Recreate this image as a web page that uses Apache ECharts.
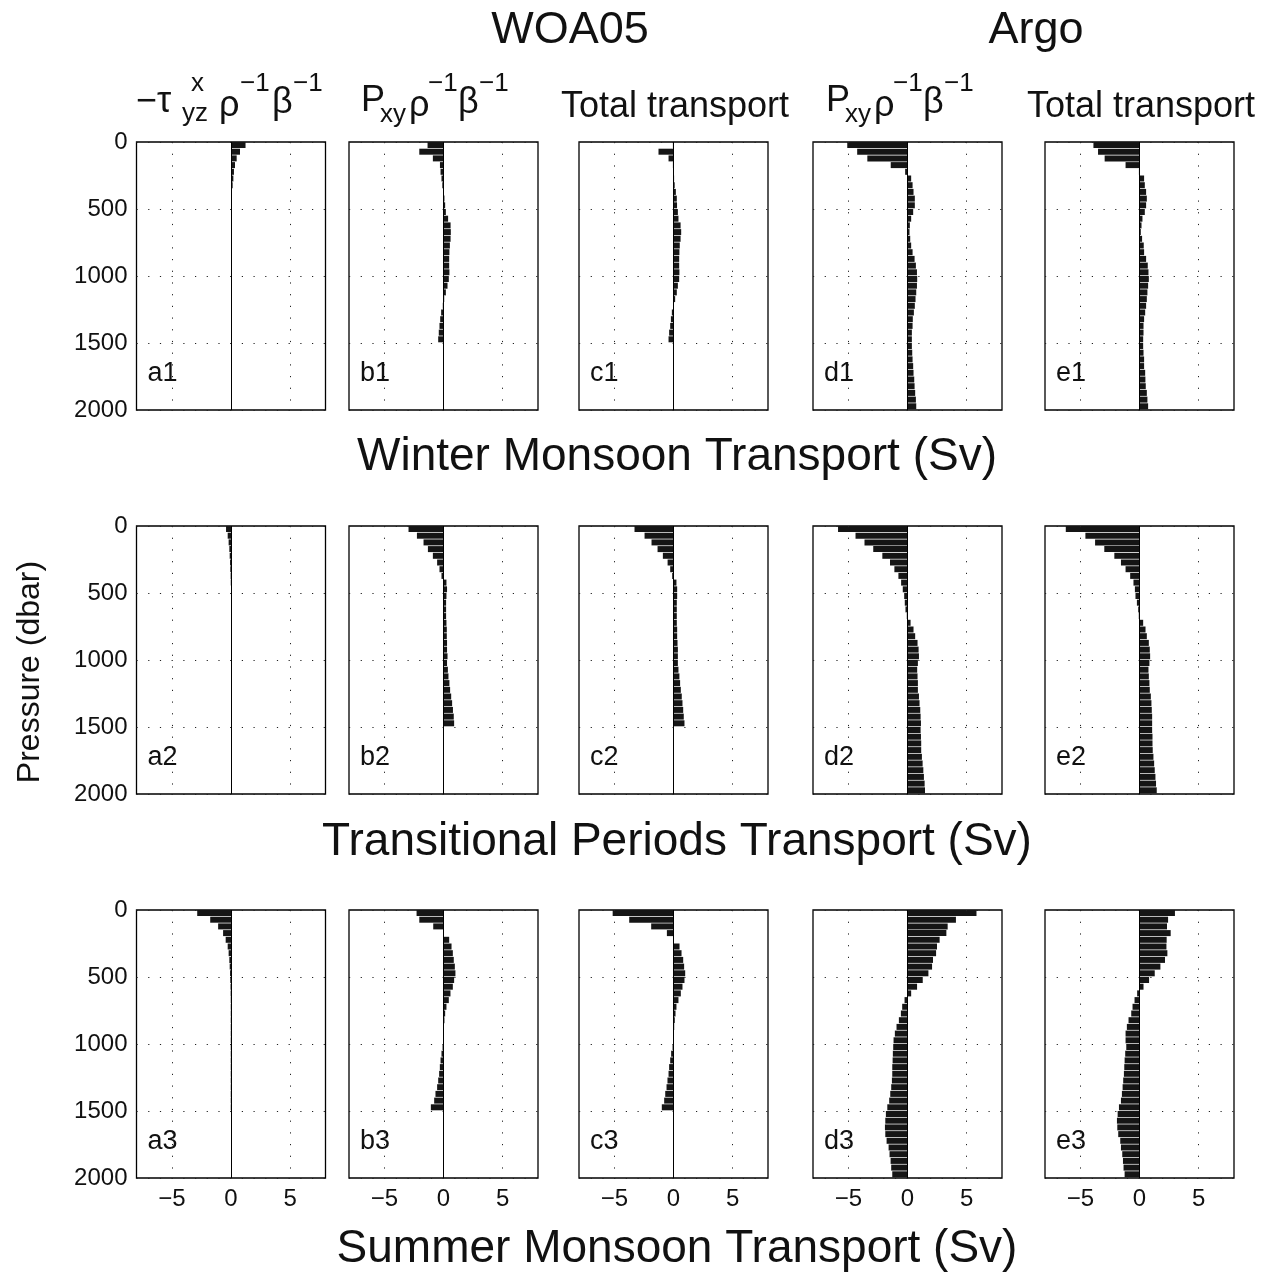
<!DOCTYPE html>
<html lang="en">
<head>
  <meta charset="UTF-8" />
  <title>Monsoon transport profiles</title>
  <script src="https://cdn.jsdelivr.net/npm/echarts@6.0.0/dist/echarts.min.js"></script>
  <style>
    html, body { margin: 0; padding: 0; background: #fff; }
    #chart { width: 1273px; height: 1276px; }
  </style>
</head>
<body>
  <div id="chart"></div>
  <script>
    // bin thickness in dbar; WOA05 goes to 1500, Argo to 2000
    const BIN = 50;

    // Winter monsoon (row 1)
    const winterA = [1.23, 0.76, 0.48, 0.34, 0.25, 0.2, 0.14, 0.08, 0.05, 0.04, 0.03, 0.03, 0.02, 0.02, 0.02, 0.02, 0.02, 0.02, 0.02, 0.02, 0.02, 0.02, 0.02, 0.02, 0.02, 0.02, 0.02, 0.02, 0.02, 0.02];
    const winterB = [-1.35, -2.05, -0.9, -0.3, -0.25, -0.17, -0.1, -0.03, 0.08, 0.14, 0.2, 0.39, 0.6, 0.62, 0.6, 0.54, 0.5, 0.48, 0.48, 0.5, 0.45, 0.34, 0.2, 0.06, -0.06, -0.2, -0.28, -0.34, -0.4, -0.45];
    const winterC = [-0.05, -1.27, -0.42, -0.05, 0.0, 0.05, 0.1, 0.2, 0.28, 0.3, 0.37, 0.42, 0.6, 0.65, 0.6, 0.53, 0.5, 0.48, 0.48, 0.5, 0.48, 0.37, 0.28, 0.14, 0.03, -0.14, -0.22, -0.28, -0.37, -0.42];
    const winterD = [-5.1, -4.26, -3.4, -1.42, -0.2, 0.31, 0.43, 0.51, 0.62, 0.62, 0.48, 0.31, 0.2, 0.17, 0.23, 0.31, 0.43, 0.6, 0.71, 0.8, 0.82, 0.8, 0.74, 0.68, 0.62, 0.54, 0.45, 0.43, 0.37, 0.37, 0.37, 0.4, 0.43, 0.48, 0.51, 0.57, 0.6, 0.65, 0.71, 0.74];
    const winterE = [-3.9, -3.51, -2.95, -1.18, -0.05, 0.39, 0.45, 0.56, 0.62, 0.56, 0.45, 0.25, 0.17, 0.11, 0.22, 0.36, 0.39, 0.56, 0.7, 0.76, 0.79, 0.73, 0.67, 0.62, 0.56, 0.48, 0.39, 0.34, 0.34, 0.31, 0.31, 0.34, 0.39, 0.39, 0.48, 0.5, 0.53, 0.62, 0.67, 0.73];

    // Transitional periods (row 2)
    const transA = [-0.42, -0.28, -0.2, -0.14, -0.11, -0.08, -0.06, -0.03, -0.02, 0.02, 0.03, 0.03, 0.03, 0.03, 0.04, 0.04, 0.04, 0.04, 0.04, 0.04, 0.04, 0.04, 0.04, 0.04, 0.04, 0.04, 0.04, 0.04, 0.04, 0.04];
    const transB = [-2.96, -2.25, -1.69, -1.32, -0.9, -0.54, -0.34, -0.17, 0.25, 0.3, 0.25, 0.22, 0.22, 0.22, 0.25, 0.28, 0.28, 0.3, 0.3, 0.34, 0.3, 0.37, 0.42, 0.5, 0.56, 0.65, 0.73, 0.8, 0.87, 0.9];
    const transC = [-3.3, -2.45, -1.86, -1.35, -0.9, -0.5, -0.28, -0.11, 0.25, 0.31, 0.31, 0.28, 0.28, 0.28, 0.28, 0.31, 0.31, 0.34, 0.37, 0.37, 0.37, 0.42, 0.5, 0.56, 0.62, 0.7, 0.76, 0.82, 0.87, 0.93];
    const transD = [-5.88, -4.4, -3.64, -2.9, -2.13, -1.48, -1.11, -0.77, -0.54, -0.4, -0.28, -0.23, -0.17, -0.06, 0.26, 0.51, 0.65, 0.85, 0.94, 0.97, 0.88, 0.82, 0.85, 0.88, 0.88, 0.97, 1.02, 1.08, 1.11, 1.14, 1.11, 1.14, 1.16, 1.16, 1.22, 1.28, 1.34, 1.39, 1.45, 1.48];
    const transE = [-6.24, -4.58, -3.76, -2.98, -2.13, -1.57, -1.18, -0.79, -0.51, -0.39, -0.34, -0.22, -0.11, -0.06, 0.31, 0.51, 0.62, 0.79, 0.87, 0.9, 0.84, 0.76, 0.79, 0.84, 0.87, 0.96, 1.01, 1.04, 1.07, 1.07, 1.07, 1.1, 1.1, 1.12, 1.18, 1.24, 1.29, 1.35, 1.4, 1.46];

    // Summer monsoon (row 3)
    const summerA = [-2.86, -1.76, -1.09, -0.67, -0.45, -0.28, -0.2, -0.14, -0.11, -0.08, -0.06, -0.04, -0.03, -0.02, -0.02, -0.02, -0.02, -0.02, -0.02, -0.02, -0.02, -0.02, -0.02, -0.02, -0.02, -0.02, -0.02, -0.02, -0.02, -0.02];
    const summerB = [-2.28, -2.05, -0.87, 0.03, 0.48, 0.68, 0.79, 0.87, 0.96, 1.01, 0.9, 0.79, 0.59, 0.45, 0.25, 0.14, 0.08, 0.03, 0.0, -0.03, -0.08, -0.17, -0.25, -0.31, -0.37, -0.45, -0.54, -0.68, -0.79, -1.07];
    const summerC = [-5.15, -3.75, -1.89, -0.56, 0.03, 0.51, 0.68, 0.82, 0.9, 0.99, 0.93, 0.76, 0.62, 0.42, 0.25, 0.17, 0.11, 0.06, 0.03, -0.03, -0.08, -0.2, -0.28, -0.37, -0.42, -0.51, -0.59, -0.7, -0.79, -0.99];
    const summerD = [5.84, 4.1, 3.4, 3.29, 2.72, 2.5, 2.42, 2.16, 2.08, 1.77, 1.29, 0.81, 0.31, -0.25, -0.45, -0.56, -0.73, -0.93, -1.07, -1.18, -1.21, -1.24, -1.26, -1.29, -1.29, -1.32, -1.38, -1.46, -1.55, -1.71, -1.83, -1.88, -1.91, -1.88, -1.77, -1.6, -1.52, -1.43, -1.38, -1.29];
    const summerE = [3.0, 2.42, 2.33, 2.64, 2.3, 2.28, 2.36, 2.16, 1.77, 1.29, 0.81, 0.34, -0.2, -0.42, -0.59, -0.7, -0.93, -1.07, -1.18, -1.18, -1.12, -1.21, -1.26, -1.29, -1.32, -1.38, -1.43, -1.49, -1.57, -1.74, -1.85, -1.91, -1.88, -1.8, -1.63, -1.57, -1.46, -1.4, -1.35, -1.26];

    const panelRows = [
      [winterA, winterB, winterC, winterD, winterE],
      [transA, transB, transC, transD, transE],
      [summerA, summerB, summerC, summerD, summerE]
    ];
    const panelTags = [
      ['a1', 'b1', 'c1', 'd1', 'e1'],
      ['a2', 'b2', 'c2', 'd2', 'e2'],
      ['a3', 'b3', 'c3', 'd3', 'e3']
    ];
    const rowTitles = ['Winter Monsoon Transport (Sv)', 'Transitional Periods Transport (Sv)', 'Summer Monsoon Transport (Sv)'];
    const xTicks = [-5, 0, 5];

    const FONT = "'Liberation Sans', Arial, Helvetica, sans-serif";
    const colLeft = [136.5, 349, 579, 813, 1045];
    const rowTop = [142, 526, 910];
    const titleY = [457, 842, 1249];
    const PW = 189, PH = 268;

    const chart = echarts.init(document.getElementById('chart'), null, { renderer: 'canvas' });

    function renderBars(params, api) {
      const v = api.value(0);
      const p0 = api.coord([0, api.value(1)]);
      const p1 = api.coord([v, api.value(2)]);
      return {
        type: 'rect',
        shape: {
          x: Math.min(p0[0], p1[0]),
          y: p0[1],
          width: Math.abs(p1[0] - p0[0]),
          height: Math.max(0, p1[1] - p0[1] - 0.7)
        },
        style: { fill: '#151515' }
      };
    }

    const grids = [], xAxes = [], yAxes = [], series = [], graphics = [];
    let idx = 0;
    panelRows.forEach((row, r) => {
      row.forEach((vals, c) => {
        grids.push({
          left: colLeft[c], top: rowTop[r], width: PW, height: PH,
          show: true, borderColor: '#000', borderWidth: 1.3, backgroundColor: '#fff'
        });
        xAxes.push({
          type: 'value', gridIndex: idx, min: -8, max: 8,
          axisLine: { show: false }, axisTick: { show: false }, splitLine: { show: false },
          axisLabel: {
            show: r === 2, customValues: xTicks, margin: 9,
            fontFamily: FONT, fontSize: 24, color: '#111',
            formatter: v => String(v).replace('-', '\u2212')
          }
        });
        yAxes.push({
          type: 'value', gridIndex: idx, min: 0, max: 2000, interval: 500, inverse: true,
          axisLine: { show: false }, axisTick: { show: false },
          splitLine: { show: true, lineStyle: { color: '#222', width: 1, type: [1.2, 10.5] } },
          axisLabel: { show: c === 0, margin: 9, fontFamily: FONT, fontSize: 24, color: '#111',
                       formatter: v => String(v) }
        });
        // dotted vertical grid lines
        series.push({
          type: 'line', xAxisIndex: idx, yAxisIndex: idx, data: [], z: 1, silent: true,
          markLine: {
            silent: true, symbol: 'none', animation: false, label: { show: false },
            lineStyle: { color: '#222', width: 1, type: [1.2, 10.5] },
            data: xTicks.filter(t => t !== 0).map(t => ({ xAxis: t }))
          }
        });
        series.push({
          type: 'custom', xAxisIndex: idx, yAxisIndex: idx, z: 2, animation: false,
          renderItem: renderBars,
          encode: { x: 0, y: [1, 2] },
          data: vals.map((v, i) => [v, i * BIN, (i + 1) * BIN]),
          markLine: {
            silent: true, symbol: 'none', animation: false, label: { show: false },
            lineStyle: { color: '#000', width: 1, type: 'solid' },
            data: [{ xAxis: 0 }]
          }
        });
        graphics.push({
          type: 'text', x: colLeft[c] + 11, y: rowTop[r] + PH - 36,
          style: { text: panelTags[r][c], fontFamily: FONT, fontSize: 27, fill: '#111',
                   align: 'left', verticalAlign: 'middle', textAlign: 'left', textVerticalAlign: 'middle' },
          z: 10
        });
        idx++;
      });
    });

    function txt(text, x, y, size) {
      return {
        type: 'text', x: x, y: y, z: 10,
        style: { text: text, fontFamily: FONT, fontSize: size, fill: '#111',
                 align: 'left', verticalAlign: 'middle', textAlign: 'left', textVerticalAlign: 'middle' }
      };
    }
    function ctxt(text, x, y, size) {
      const t = txt(text, x, y, size);
      t.style.align = 'center'; t.style.textAlign = 'center';
      return t;
    }

    // top titles
    graphics.push(ctxt('WOA05', 570, 31, 45));
    graphics.push(ctxt('Argo', 1036, 31, 45));

    // column headers
    graphics.push(txt('\u2212\u03c4', 136, 102, 36));
    graphics.push(txt('x', 191, 84, 26));
    graphics.push(txt('yz', 182, 114, 26));
    graphics.push(txt('\u03c1', 219, 106, 36));
    graphics.push(txt('\u22121', 240, 84, 26));
    graphics.push(txt('\u03b2', 272, 103, 36));
    graphics.push(txt('\u22121', 293, 84, 26));

    [361, 826].forEach(function (x0) {
      graphics.push(txt('P', x0, 101, 36));
      graphics.push(txt('xy', x0 + 19, 115, 26));
      graphics.push(txt('\u03c1', x0 + 48, 106, 36));
      graphics.push(txt('\u22121', x0 + 67, 84, 26));
      graphics.push(txt('\u03b2', x0 + 97, 103, 36));
      graphics.push(txt('\u22121', x0 + 118, 84, 26));
    });
    graphics.push(ctxt('Total transport', 675, 107, 36));
    graphics.push(ctxt('Total transport', 1141, 107, 36));

    // row titles
    rowTitles.forEach(function (t, r) {
      graphics.push(ctxt(t, 677, titleY[r], 46));
    });

    // y axis title
    graphics.push({
      type: 'text', x: 30, y: 672, rotation: Math.PI / 2, z: 10,
      style: { text: 'Pressure (dbar)', fontFamily: FONT, fontSize: 32, fill: '#111',
               align: 'center', verticalAlign: 'middle', textAlign: 'center', textVerticalAlign: 'middle' }
    });

    chart.setOption({
      animation: false,
      backgroundColor: '#fff',
      grid: grids,
      xAxis: xAxes,
      yAxis: yAxes,
      series: series,
      graphic: graphics
    });
  </script>
</body>
</html>
